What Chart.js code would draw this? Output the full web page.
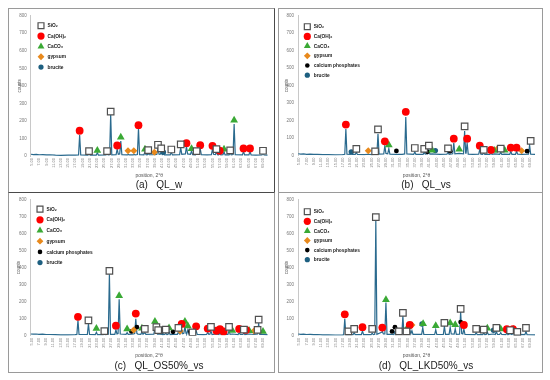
<!DOCTYPE html>
<html>
<head>
<meta charset="utf-8">
<script src="https://cdn.jsdelivr.net/npm/chart.js@4.4.1/dist/chart.umd.min.js"></script>
<style>
body { margin:0; background:#fff; width:550px; height:380px; position:relative; overflow:hidden; font-family:"Liberation Sans", Arial, sans-serif; }
.panel { position:absolute; box-sizing:border-box; border:1px solid #9a9a9a; }
.panel canvas { position:absolute; left:0; top:0; }
.cap { position:absolute; width:200px; height:12px; line-height:12px; text-align:center; font-size:10px; white-space:pre; color:#1a1a1a; }
</style>
</head>
<body>
<div class="panel" style="left:8px;top:8px;width:267px;height:185px;border-right-color:#4a4a4a;border-bottom-color:#4a4a4a"><canvas id="chartA" width="265" height="183"></canvas></div>
<div class="panel" style="left:278px;top:8px;width:265px;height:185px"><canvas id="chartB" width="263" height="183"></canvas></div>
<div class="panel" style="left:8px;top:192px;width:267px;height:181px;border-top-color:#4a4a4a"><canvas id="chartC" width="265" height="179"></canvas></div>
<div class="panel" style="left:278px;top:192px;width:265px;height:181px"><canvas id="chartD" width="263" height="179"></canvas></div>
<div class="cap" style="left:59px;top:179px">(a)   QL_w</div>
<div class="cap" style="left:326px;top:179px">(b)   QL_vs</div>
<div class="cap" style="left:59px;top:360px">(c)   QL_OS50%_vs</div>
<div class="cap" style="left:326px;top:360px">(d)   QL_LKD50%_vs</div>
<script>
// axis ticks
var xTicks = [5, 7, 9, 11, 13, 15, 17, 19, 21, 23, 25, 27, 29, 31, 33, 35, 37, 39, 41, 43, 45, 47, 49, 51, 53, 55, 57, 59, 61, 63, 65, 67, 69];
var yTicks = [0, 100, 200, 300, 400, 500, 600, 700, 800];
var phaseNames = ['SiO\u2082', 'Ca(OH)\u2082', 'CaCO\u2083', 'gypsum', 'calcium phosphates', 'brucite'];

// diffraction patterns [2theta, counts]
var traceA = [
    [4.7,10],[5.4,8],[6.2,9],[7,7],[8,8],[9,6],[10,7],[11.5,5],[13,4],[15,5],[17,5],
    [17.9,6],[18.2,120],[18.5,6],[20.5,5],[20.8,15],[21.1,5],[22.8,5],[23.1,18],[23.4,5],
    [25.5,6],[25.8,12],[26.1,6],[26.5,7],[26.8,238],[27.1,7],
    [28.3,8],[28.6,40],[28.9,10],[29.3,12],[29.6,85],[29.9,8],
    [31.4,6],[31.7,9],[32,6],[33,6],[33.3,9],[33.6,6],[34.2,8],[34.5,158],[34.8,8],
    [36,7],[36.3,22],[36.6,8],[36.9,7],[37.2,14],[37.5,7],
    [38.6,7],[38.9,10],[39.2,8],[39.6,10],[39.9,45],[40.2,10],[40.5,9],[40.8,25],[41.1,8],[41.4,12],[41.7,6],
    [43.3,6],[43.6,22],[43.9,6],[45.9,8],[46.2,48],[46.5,10],[47.5,12],[47.8,55],[48.1,12],[48.9,10],[49.2,28],[49.5,8],
    [50.3,7],[50.6,15],[50.9,9],[51.3,10],[51.6,42],[51.9,8],
    [53.5,6],[54.7,8],[55,40],[55.3,10],[55.8,8],[56.1,22],[56.4,7],[56.7,6],[57,14],[57.3,6],[57.9,8],[58.2,24],[58.5,6],
    [59.6,6],[59.9,18],[60.2,6],[60.7,8],[61,182],[61.3,8],
    [63.3,6],[63.6,26],[63.9,6],[65.1,6],[65.4,26],[65.7,6],[67,5],[68.7,6],[69,18],[69.3,6],[70.3,5]
];
var traceB = [
    [4.7,10],[5.4,8],[6.2,9],[7,7],[8,8],[9,6],[10,7],[11.5,5],[13,5],[15,4],[17,5],
    [17.6,7],[17.9,152],[18.2,7],[19.1,6],[19.4,9],[19.7,6],[20.5,6],[20.8,18],[21.1,6],
    [23,5],[24.1,7],[25,5],[25.7,6],[26,10],[26.3,7],[26.5,8],[26.8,124],[27.1,8],
    [28.4,9],[28.7,55],[29,12],[29.5,10],[29.8,40],[30.1,8],
    [31.9,7],[33.5,6],[34.2,9],[34.5,220],[34.8,9],
    [36.7,7],[37,20],[37.3,7],[39.3,7],[39.6,18],[39.9,8],[40.6,10],[40.9,32],[41.2,8],[41.8,9],[42.7,8],
    [44,6],[45.9,7],[46.2,20],[46.5,7],[47.5,10],[47.8,72],[48.1,10],[49.3,12],
    [50.5,10],[50.8,140],[51.1,14],[51.2,14],[51.5,72],[51.8,8],
    [53,6],[54.7,8],[55,35],[55.3,8],[55.8,7],[56.1,15],[56.4,7],[57.8,7],[58.1,14],[58.4,7],[59,9],[59.9,8],
    [60.5,7],[60.8,18],[61.1,7],[61.9,8],[63.3,7],[63.6,24],[63.9,7],[64.9,7],[65.2,24],[65.5,7],
    [66.6,6],[68.5,7],[68.8,60],[69.1,8],[70.3,6]
];
var traceC = [
    [4.7,10],[5.4,9],[6.2,10],[7,8],[8,9],[9,7],[10,7],[11.5,6],[13,5],[15,5],[17,6],
    [17.5,7],[17.8,90],[18.1,7],[20.4,7],[20.7,70],[21,7],[22.6,6],[22.9,20],[23.2,6],
    [24.8,6],[25.1,10],[25.4,6],[26.2,8],[26.5,365],[26.8,8],
    [28,8],[28.3,35],[28.6,10],[28.9,12],[29.2,215],[29.5,10],
    [31.1,8],[31.4,18],[31.7,8],[32.6,9],[33.2,10],[33.5,12],[33.8,100],[34.1,14],[34.4,9],
    [35.2,8],[35.5,22],[35.8,9],[36.3,18],[36.6,8],[38.8,9],[39.1,45],[39.3,20],[39.5,28],[39.8,9],
    [40.9,10],[41.2,6],[41.8,7],[42.1,15],[42.4,7],[42.7,8],[43,25],[43.3,7],[44.1,8],
    [45.3,8],[45.6,22],[45.9,10],[46.2,12],[46.5,30],[46.8,12],[47.1,14],[47.4,55],[47.7,14],[47.9,12],[48.2,35],[48.5,9],
    [49.5,8],[50.2,8],[50.5,30],[50.8,8],[52.5,6],[53.4,7],[53.7,20],[54,8],[54.3,9],[54.6,28],[54.9,7],
    [56.1,10],[56.8,7],[57.1,18],[57.4,7],[58.1,9],[59.3,8],[59.6,30],[59.9,8],[60.5,10],
    [62.1,7],[62.4,18],[62.7,7],[63.4,7],[63.7,15],[64,7],[65.2,10],[66.5,7],[67.5,10],
    [67.8,72],[68.1,8],[69,8],[70.3,6]
];
var traceD = [
    [4.7,10],[5.4,8],[6.2,9],[7,7],[8,8],[9,6],[10,7],[11.5,5],[13,5],[15,4],[17,5],
    [17.3,6],[17.6,100],[17.9,6],[18.6,8],[19.9,6],[20.2,18],[20.5,6],[22.2,6],[22.5,28],[22.8,6],
    [24.9,6],[25.2,15],[25.5,7],[25.9,8],[26.2,680],[26.5,8],
    [27.8,20],[28,25],[28.3,10],[28.7,10],[29,195],[29.3,8],
    [30.7,8],[31.2,7],[31.5,25],[31.8,7],[32.6,10],[33.4,8],[33.7,115],[34,8],
    [34.7,10],[35.1,20],[35.6,35],[35.9,12],[36.2,30],[36.5,8],
    [38.9,8],[39.2,48],[39.5,8],[42.5,7],[42.8,35],[43.1,7],
    [44.9,7],[45.2,55],[45.5,8],[46.5,8],[46.8,50],[47.1,10],[47.9,9],[48.2,40],[48.5,8],
    [49.4,9],[49.7,140],[50,12],[50.3,10],[50.6,40],[50.9,7],
    [53.7,6],[54,18],[54.3,6],[55.8,6],[56.1,15],[56.4,6],[56.8,7],[57.1,22],[57.4,6],
    [58.8,10],[59.3,7],[59.6,25],[59.9,7],[60.5,7],[60.8,18],[61.1,7],
    [62.2,6],[62.5,15],[62.8,6],[63.4,12],[63.9,7],[64.3,15],[64.6,6],[65.4,8],
    [67.5,6],[67.8,25],[68.1,6],[70.3,5]
];

// phase markers [2theta, counts]
var sio2A = [[20.8,28],[25.8,28],[26.8,253],[37.2,33],[39.9,64],[40.8,43],[43.6,37],[46.2,66],[50.6,28],[56.1,39],[59.9,32],[69.0,30]];
var caohA = [[18.2,144],[28.6,60],[34.5,176],[47.8,73],[51.6,62],[55.0,58],[57.0,30],[63.6,43],[65.4,43]];
var caco3A = [[23.1,32],[29.6,107],[36.3,39],[49.2,42],[58.2,39],[61.0,204]];
var gypsumA = [[31.6,30],[33.2,30],[38.9,22]];
var bruciteA = [[41.4,22]];

var sio2B = [[20.8,38],[26.0,24],[26.8,150],[37.0,43],[39.6,38],[40.9,56],[46.2,41],[50.8,167],[56.1,32],[60.8,39],[69.1,84]];
var caohB = [[17.9,177],[28.7,81],[34.5,250],[47.8,96],[51.5,96],[55.0,56],[58.1,32],[63.6,45],[65.2,45]];
var caco3B = [[29.8,60],[41.8,30],[49.3,36],[59.0,28],[61.9,30]];
var gypsumB = [[24.1,27],[59.9,38],[66.6,27]];
var phosB = [[31.9,26],[40.5,21],[46.8,25],[68.1,25]];
var bruciteB = [[19.4,21],[42.7,28]];

var sio2C = [[20.7,90],[25.1,27],[26.5,381],[36.3,40],[39.5,50],[40.0,33],[42.1,36],[45.6,46],[49.5,19],[54.6,52],[59.6,52],[63.7,36],[67.5,34],[67.8,94]];
var caohC = [[17.8,111],[28.3,59],[33.8,130],[46.5,69],[50.5,55],[53.7,42],[56.1,29],[57.1,38],[58.1,25],[62.4,40],[64.3,34]];
var caco3C = [[22.9,42],[29.2,235],[31.4,40],[35.5,44],[39.1,84],[43.0,46],[47.4,84],[48.2,57],[60.5,31],[65.2,29],[69.0,25]];
var gypsumC = [[33.2,34],[46.1,27],[66.5,27]];
var phosC = [[32.6,25],[34.1,50],[44.1,23],[48.9,25]];
var bruciteC = [[40.9,23]];

var sio2D = [[18.6,25],[20.2,40],[25.2,40],[26.2,697],[32.6,25],[33.7,134],[34.7,25],[45.2,76],[49.7,158],[54.0,40],[56.1,36],[59.6,46],[63.4,32],[65.4,23],[67.8,46]];
var caohD = [[17.6,126],[22.5,50],[28.0,48],[35.6,63],[50.6,63],[62.5,38],[64.2,38]];
var caco3D = [[29.0,212],[35.1,53],[39.3,71],[42.8,59],[46.8,74],[48.2,65],[57.1,44],[60.8,40],[64.4,36]];
var gypsumD = [[36.2,63]];
var phosD = [[27.8,42],[30.7,25],[31.5,50],[49.7,80]];
var bruciteD = [[39.0,69],[58.8,32]];

var phaseStyle = [
    { style: 'rect', r: 4.6, lr: 4.2, fill: '#ffffff', stroke: '#505050', bw: 1.2 },
    { style: 'circle', r: 3.9, lr: 3.6, fill: '#ff0000', stroke: '#ff0000', bw: 0 },
    { style: 'triangle', r: 4.5, lr: 4.0, fill: '#3aa935', stroke: '#3aa935', bw: 0 },
    { style: 'rectRot', r: 3.5, lr: 3.4, fill: '#e8891c', stroke: '#e8891c', bw: 0 },
    { style: 'circle', r: 2.4, lr: 2.3, fill: '#000000', stroke: '#000000', bw: 0 },
    { style: 'circle', r: 2.7, lr: 2.6, fill: '#1d5f80', stroke: '#1d5f80', bw: 0 }
];

var insideLegend = {
    id: 'insideLegend',
    afterDatasetsDraw: function (chart, args, opts) {
        var ctx = chart.ctx, area = chart.chartArea, i = 0;
        ctx.save();
        chart.data.datasets.forEach(function (ds) {
            if (!ds.legendText) return;
            var x = area.left + opts.dx, y = area.top + opts.dy + i * opts.gap;
            ctx.fillStyle = ds.pointBackgroundColor;
            ctx.strokeStyle = ds.pointBorderColor;
            ctx.lineWidth = ds.pointBorderWidth;
            Chart.helpers.drawPoint(ctx, { pointStyle: ds.pointStyle, radius: ds.legendRadius, borderWidth: ds.pointBorderWidth, rotation: 0 }, x, y);
            ctx.fillStyle = '#1a1a1a';
            ctx.font = 'bold 4.8px "Liberation Sans"';
            ctx.textBaseline = 'middle';
            ctx.textAlign = 'left';
            ctx.fillText(ds.legendText, x + 6.5, y + 0.3);
            i++;
        });
        ctx.restore();
    }
};

function toXY(arr) {
    return arr.map(function (p) { return { x: p[0], y: p[1] }; });
}

function panelChart(id, trace, marks, lay) {
    var datasets = [];
    phaseNames.forEach(function (name, k) {
        if (!marks[k]) return;
        var st = phaseStyle[k];
        datasets.push({
            label: name,
            legendText: name,
            data: toXY(marks[k]),
            pointStyle: st.style,
            pointRadius: st.r,
            pointHoverRadius: st.r,
            pointBackgroundColor: st.fill,
            pointBorderColor: st.stroke,
            pointBorderWidth: st.bw,
            legendRadius: st.lr,
            order: 0
        });
    });
    datasets.push({
        label: 'pattern',
        data: toXY(trace),
        showLine: true,
        pointRadius: 0,
        borderColor: '#2a6a8e',
        borderWidth: 1.2,
        order: 1
    });

    new Chart(document.getElementById(id), {
        type: 'scatter',
        data: { datasets: datasets },
        options: {
            responsive: false,
            animation: false,
            events: [],
            layout: { padding: { left: 0, top: lay.padTop, right: lay.padRight, bottom: lay.padBottom } },
            scales: {
                x: {
                    type: 'linear',
                    min: 4.64,
                    max: 70.3,
                    grid: { display: false, drawTicks: false },
                    border: { display: false },
                    afterBuildTicks: function (axis) { axis.ticks = xTicks.map(function (v) { return { value: v }; }); },
                    afterFit: function (axis) { axis.height = 23; },
                    ticks: {
                        autoSkip: false,
                        minRotation: 90,
                        maxRotation: 90,
                        padding: 2,
                        color: '#808080',
                        font: { family: 'Liberation Sans', size: 4 },
                        callback: function (v) { return Number(v).toFixed(2); }
                    },
                    title: {
                        display: true,
                        text: 'position, 2°θ',
                        color: '#555555',
                        font: { family: 'Liberation Sans', size: 5 },
                        padding: { top: 0, bottom: 0 }
                    }
                },
                y: {
                    min: 0,
                    max: 800,
                    grid: { display: false, drawTicks: false },
                    border: { display: true, color: '#c8c8c8', width: 1, dash: [1, 1] },
                    afterBuildTicks: function (axis) { axis.ticks = yTicks.map(function (v) { return { value: v }; }); },
                    afterFit: function (axis) { axis.width = lay.yW; },
                    ticks: {
                        padding: 4,
                        color: '#777777',
                        font: { family: 'Liberation Sans', size: 4.5 }
                    },
                    title: {
                        display: true,
                        text: 'counts',
                        color: '#555555',
                        font: { family: 'Liberation Sans', size: 4.5 },
                        padding: { top: lay.yW - 13.9, bottom: 0 }
                    }
                }
            },
            plugins: {
                legend: { display: false },
                tooltip: { enabled: false },
                insideLegend: lay.legend
            }
        },
        plugins: [insideLegend]
    });
}

panelChart('chartA', traceA, [sio2A, caohA, caco3A, gypsumA, null, bruciteA],
    { yW: 21.7, padTop: 4, padRight: 6.3, padBottom: 13, legend: { dx: 10.3, dy: 10, gap: 10.35 } });
panelChart('chartB', traceB, [sio2B, caohB, caco3B, gypsumB, phosB, bruciteB],
    { yW: 19, padTop: 4, padRight: 7, padBottom: 13.5, legend: { dx: 9.3, dy: 11, gap: 9.7 } });
panelChart('chartC', traceC, [sio2C, caohC, caco3C, gypsumC, phosC, bruciteC],
    { yW: 21.4, padTop: 3.3, padRight: 6.3, padBottom: 13.3, legend: { dx: 9.6, dy: 9.4, gap: 10.7 } });
panelChart('chartD', traceD, [sio2D, caohD, caco3D, gypsumD, phosD, bruciteD],
    { yW: 19, padTop: 3, padRight: 7, padBottom: 13.3, legend: { dx: 9.3, dy: 12, gap: 9.6 } });
</script>
</body>
</html>
